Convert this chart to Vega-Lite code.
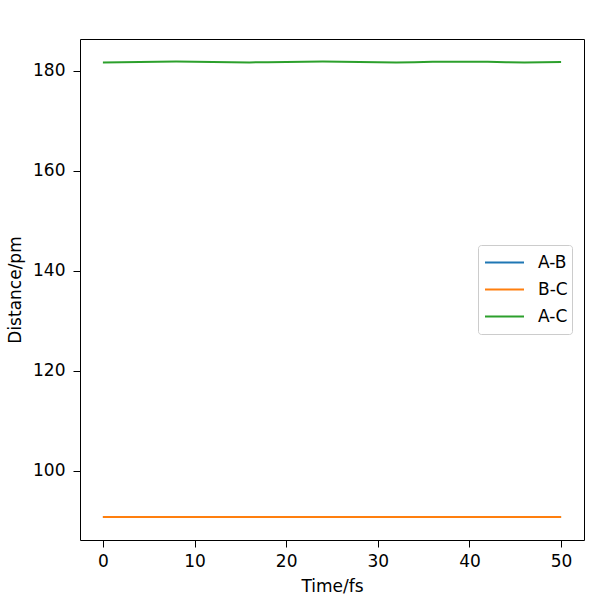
{
  "$schema": "https://vega.github.io/schema/vega-lite/v6.json",
  "width": 504,
  "height": 501,
  "autosize": {"type": "none"},
  "padding": {"left": 80, "top": 39, "right": 32, "bottom": 59},
  "background": "white",
  "config": {
    "view": {"stroke": "#000", "strokeWidth": 1},
    "font": "DejaVu Sans",
    "axis": {
      "grid": false,
      "domain": false,
      "tickColor": "#000",
      "tickSize": 7,
      "tickWidth": 1,
      "labelFont": "DejaVu Sans",
      "labelFontSize": 17,
      "labelColor": "#000",
      "labelPadding": 6,
      "titleFont": "DejaVu Sans",
      "titleFontSize": 17,
      "titleFontWeight": "normal",
      "titleColor": "#000"
    }
  },
  "data": {
    "values": [
      {"t": 0, "pair": "A-B", "d": 90.70}, {"t": 10, "pair": "A-B", "d": 90.71}, {"t": 20, "pair": "A-B", "d": 90.70}, {"t": 30, "pair": "A-B", "d": 90.71}, {"t": 40, "pair": "A-B", "d": 90.70}, {"t": 50, "pair": "A-B", "d": 90.70},
      {"t": 0, "pair": "B-C", "d": 90.70}, {"t": 10, "pair": "B-C", "d": 90.71}, {"t": 20, "pair": "B-C", "d": 90.70}, {"t": 30, "pair": "B-C", "d": 90.71}, {"t": 40, "pair": "B-C", "d": 90.70}, {"t": 50, "pair": "B-C", "d": 90.70},
      {"t": 0, "pair": "A-C", "d": 181.72}, {"t": 2, "pair": "A-C", "d": 181.74}, {"t": 4, "pair": "A-C", "d": 181.80}, {"t": 6, "pair": "A-C", "d": 181.86},
      {"t": 8, "pair": "A-C", "d": 181.88}, {"t": 10, "pair": "A-C", "d": 181.86}, {"t": 12, "pair": "A-C", "d": 181.80}, {"t": 14, "pair": "A-C", "d": 181.74},
      {"t": 16, "pair": "A-C", "d": 181.72}, {"t": 18, "pair": "A-C", "d": 181.75}, {"t": 20, "pair": "A-C", "d": 181.81}, {"t": 22, "pair": "A-C", "d": 181.87},
      {"t": 24, "pair": "A-C", "d": 181.88}, {"t": 26, "pair": "A-C", "d": 181.84}, {"t": 28, "pair": "A-C", "d": 181.78}, {"t": 30, "pair": "A-C", "d": 181.73},
      {"t": 32, "pair": "A-C", "d": 181.72}, {"t": 34, "pair": "A-C", "d": 181.76}, {"t": 36, "pair": "A-C", "d": 181.83}, {"t": 38, "pair": "A-C", "d": 181.87},
      {"t": 40, "pair": "A-C", "d": 181.87}, {"t": 42, "pair": "A-C", "d": 181.83}, {"t": 44, "pair": "A-C", "d": 181.76}, {"t": 46, "pair": "A-C", "d": 181.72},
      {"t": 48, "pair": "A-C", "d": 181.73}, {"t": 50, "pair": "A-C", "d": 181.78}
    ]
  },
  "mark": {"type": "line", "strokeWidth": 2, "clip": true},
  "encoding": {
    "x": {
      "field": "t", "type": "quantitative",
      "scale": {"domain": [-2.5, 52.5], "nice": false, "zero": false},
      "axis": {"title": "Time/fs", "values": [0, 10, 20, 30, 40, 50], "titlePadding": 9}
    },
    "y": {
      "field": "d", "type": "quantitative",
      "scale": {"domain": [86.1, 186.4], "nice": false, "zero": false},
      "axis": {"title": "Distance/pm", "values": [100, 120, 140, 160, 180], "labelPadding": 8, "titlePadding": 8}
    },
    "color": {
      "field": "pair", "type": "nominal",
      "scale": {"domain": ["A-B", "B-C", "A-C"], "range": ["#1f77b4", "#ff7f0e", "#2ca02c"]},
      "legend": {
        "title": null,
        "orient": "none",
        "legendX": 398,
        "legendY": 206,
        "symbolType": "stroke",
        "symbolSize": 1521,
        "symbolStrokeWidth": 2,
        "symbolOffset": 2,
        "clipHeight": 27,
        "labelFont": "DejaVu Sans",
        "labelFontSize": 17,
        "labelColor": "#000",
        "labelOffset": 13,
        "rowPadding": 0,
        "padding": 4,
        "strokeColor": "#cccccc",
        "cornerRadius": 3,
        "fillColor": "white"
      }
    },
    "order": {"field": "pair", "sort": "ascending"}
  }
}
